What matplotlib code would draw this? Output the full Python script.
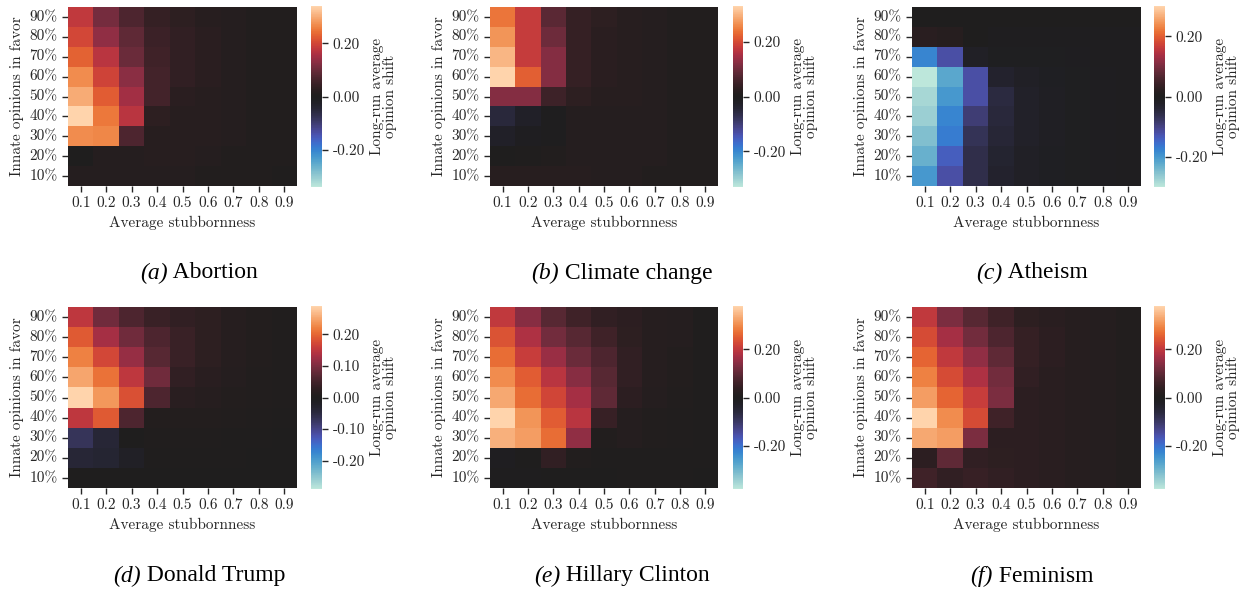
import numpy as np
import matplotlib
matplotlib.use("Agg")
import matplotlib.pyplot as plt
import seaborn as sns

# stubbornness on x, share of innate opinions in favor on y (rows listed from 90% down to 10%)
stubbornness = ["0.1", "0.2", "0.3", "0.4", "0.5", "0.6", "0.7", "0.8", "0.9"]
in_favor = ["90%", "80%", "70%", "60%", "50%", "40%", "30%", "20%", "10%"]

abortion = [
    [0.18, 0.11, 0.07, 0.040, 0.030, 0.020, 0.015, 0.010, 0.010],
    [0.20, 0.135, 0.09, 0.050, 0.035, 0.025, 0.015, 0.010, 0.010],
    [0.23, 0.17, 0.10, 0.055, 0.035, 0.025, 0.015, 0.010, 0.010],
    [0.27, 0.195, 0.13, 0.060, 0.035, 0.025, 0.015, 0.010, 0.010],
    [0.30, 0.225, 0.15, 0.060, 0.025, 0.020, 0.015, 0.010, 0.010],
    [0.34, 0.25, 0.17, 0.030, 0.020, 0.020, 0.015, 0.010, 0.010],
    [0.27, 0.265, 0.07, 0.020, 0.020, 0.020, 0.015, 0.010, 0.010],
    [0.00, 0.015, 0.015, 0.020, 0.020, 0.015, 0.010, 0.010, 0.010],
    [0.015, 0.015, 0.015, 0.015, 0.015, 0.010, 0.010, 0.010, 0.005],
]
climate = [
    [0.24, 0.18, 0.08, 0.040, 0.030, 0.020, 0.015, 0.010, 0.010],
    [0.27, 0.18, 0.10, 0.040, 0.025, 0.020, 0.015, 0.010, 0.010],
    [0.30, 0.18, 0.12, 0.040, 0.025, 0.020, 0.015, 0.010, 0.010],
    [0.33, 0.22, 0.12, 0.040, 0.025, 0.020, 0.015, 0.010, 0.010],
    [0.12, 0.12, 0.05, 0.030, 0.020, 0.020, 0.015, 0.010, 0.010],
    [-0.05, -0.025, -0.005, 0.015, 0.015, 0.015, 0.015, 0.010, 0.010],
    [-0.025, -0.01, -0.005, 0.015, 0.015, 0.015, 0.015, 0.010, 0.010],
    [0.000, 0.005, 0.010, 0.015, 0.015, 0.015, 0.015, 0.010, 0.010],
    [0.020, 0.020, 0.020, 0.020, 0.015, 0.015, 0.010, 0.010, 0.010],
]
atheism = [
    [0.000, 0.000, 0.000, -0.002, -0.002, -0.002, -0.002, -0.002, -0.002],
    [0.020, 0.015, 0.000, -0.005, -0.005, -0.005, -0.005, -0.005, -0.005],
    [-0.18, -0.12, -0.02, -0.010, -0.010, -0.010, -0.008, -0.006, -0.005],
    [-0.30, -0.22, -0.12, -0.030, -0.020, -0.012, -0.010, -0.008, -0.006],
    [-0.28, -0.20, -0.12, -0.050, -0.025, -0.015, -0.010, -0.008, -0.006],
    [-0.27, -0.18, -0.09, -0.045, -0.025, -0.015, -0.010, -0.008, -0.006],
    [-0.25, -0.17, -0.07, -0.040, -0.025, -0.015, -0.010, -0.008, -0.006],
    [-0.23, -0.14, -0.06, -0.035, -0.020, -0.012, -0.010, -0.008, -0.006],
    [-0.20, -0.12, -0.06, -0.030, -0.020, -0.012, -0.010, -0.008, -0.006],
]
trump = [
    [0.15, 0.09, 0.06, 0.040, 0.030, 0.025, 0.015, 0.010, 0.005],
    [0.19, 0.13, 0.09, 0.060, 0.040, 0.025, 0.015, 0.010, 0.005],
    [0.22, 0.17, 0.12, 0.070, 0.040, 0.025, 0.015, 0.010, 0.005],
    [0.25, 0.21, 0.15, 0.090, 0.030, 0.020, 0.012, 0.008, 0.005],
    [0.29, 0.24, 0.18, 0.060, 0.020, 0.015, 0.010, 0.008, 0.005],
    [0.15, 0.19, 0.06, 0.010, 0.010, 0.010, 0.008, 0.006, 0.004],
    [-0.07, -0.04, 0.000, 0.005, 0.005, 0.005, 0.004, 0.003, 0.002],
    [-0.04, -0.035, -0.02, 0.003, 0.003, 0.003, 0.003, 0.002, 0.002],
    [0.000, 0.000, 0.000, 0.000, 0.002, 0.002, 0.002, 0.002, 0.002],
]
clinton = [
    [0.20, 0.14, 0.09, 0.060, 0.040, 0.030, 0.020, 0.015, 0.005],
    [0.24, 0.18, 0.12, 0.090, 0.060, 0.035, 0.020, 0.015, 0.005],
    [0.27, 0.21, 0.16, 0.110, 0.080, 0.040, 0.020, 0.012, 0.005],
    [0.30, 0.25, 0.19, 0.140, 0.090, 0.040, 0.020, 0.012, 0.005],
    [0.33, 0.27, 0.22, 0.170, 0.100, 0.030, 0.015, 0.010, 0.005],
    [0.38, 0.31, 0.25, 0.190, 0.050, 0.015, 0.010, 0.008, 0.004],
    [0.34, 0.32, 0.27, 0.150, 0.010, 0.015, 0.010, 0.006, 0.004],
    [-0.01, 0.000, 0.04, 0.010, 0.005, 0.005, 0.005, 0.004, 0.003],
    [-0.005, -0.005, 0.000, 0.000, 0.000, 0.003, 0.003, 0.003, 0.002],
]
feminism = [
    [0.20, 0.13, 0.09, 0.060, 0.035, 0.025, 0.020, 0.015, 0.010],
    [0.23, 0.17, 0.12, 0.080, 0.045, 0.030, 0.020, 0.015, 0.010],
    [0.26, 0.20, 0.15, 0.100, 0.045, 0.030, 0.020, 0.015, 0.010],
    [0.29, 0.23, 0.18, 0.120, 0.040, 0.025, 0.020, 0.015, 0.010],
    [0.32, 0.26, 0.21, 0.130, 0.030, 0.025, 0.020, 0.015, 0.010],
    [0.38, 0.30, 0.23, 0.060, 0.030, 0.025, 0.020, 0.015, 0.010],
    [0.33, 0.32, 0.13, 0.030, 0.030, 0.025, 0.020, 0.015, 0.010],
    [0.03, 0.10, 0.04, 0.035, 0.030, 0.025, 0.020, 0.015, 0.010],
    [0.06, 0.04, 0.05, 0.040, 0.030, 0.025, 0.020, 0.015, 0.010],
]

panels = [("(a)", "Abortion", abortion), ("(b)", "Climate change", climate),
          ("(c)", "Atheism", atheism), ("(d)", "Donald Trump", trump),
          ("(e)", "Hillary Clinton", clinton), ("(f)", "Feminism", feminism)]
cbar_steps = [0.2, 0.2, 0.2, 0.1, 0.2, 0.2]

sns.set_style("ticks")
plt.rcParams["font.family"] = ["cmr10", "DejaVu Serif"]
plt.rcParams["axes.unicode_minus"] = False

W, H = 1246, 589
fig = plt.figure(figsize=(W / 100, H / 100), dpi=100)

def px_rect(x0, y0, x1, y1):
    return [x0 / W, (H - y1) / H, (x1 - x0) / W, (y1 - y0) / H]

col_x = [(68, 297, 311, 322), (490, 718, 733, 743), (912, 1141, 1154, 1165)]
row_y = [(7, 186, 273), (307, 488, 576)]
cap_centres = [199, 622, 1032]

captions = []
for i, (tag, name, vals) in enumerate(panels):
    r, c = divmod(i, 3)
    hx0, hx1, cx0, cx1 = col_x[c]
    y0, y1, cap_y = row_y[r]
    ax = fig.add_axes(px_rect(hx0, y0, hx1, y1))
    cax = fig.add_axes(px_rect(cx0, y0 - 1, cx1, y1 + 1))
    data = np.array(vals)
    m = np.abs(data).max()
    sns.heatmap(data, ax=ax, cbar_ax=cax, cmap="icefire", center=0, vmin=-m, vmax=m,
                xticklabels=stubbornness, yticklabels=in_favor,
                cbar_kws={"format": "%.2f"})
    ax.tick_params(axis="both", labelsize=11, length=4, width=1)
    ax.set_yticklabels(in_favor, rotation=0)
    ax.set_xticklabels(stubbornness, rotation=0)
    ax.set_xlabel("Average stubbornness", fontsize=11)
    ax.set_ylabel("Innate opinions in favor", fontsize=11)
    step = cbar_steps[i]
    k = int(np.floor(m / step + 1e-9))
    cax.set_yticks(np.arange(-k, k + 1) * step)
    cax.tick_params(labelsize=11, length=4, width=1)
    cax.set_ylabel("Long-run average\nopinion shift", fontsize=11, linespacing=0.9)
    # caption: italic tag followed by upright topic name
    cx = cap_centres[c]
    t1 = fig.text(cx / W, 1 - cap_y / H, tag, family="Liberation Serif", style="italic",
                  fontsize=17, ha="left", va="center", color="black")
    t2 = fig.text(cx / W, 1 - cap_y / H, " " + name, family="Liberation Serif",
                  fontsize=17, ha="left", va="center", color="black")
    captions.append((t1, t2, cx))

fig.canvas.draw()
renderer = fig.canvas.get_renderer()
for t1, t2, cx in captions:
    w1 = t1.get_window_extent(renderer).width
    w2 = t2.get_window_extent(renderer).width
    left = cx - (w1 + w2) / 2
    y = t1.get_position()[1]
    t1.set_position((left / W, y))
    t2.set_position(((left + w1) / W, y))

fig.savefig("out.png", dpi=100)
